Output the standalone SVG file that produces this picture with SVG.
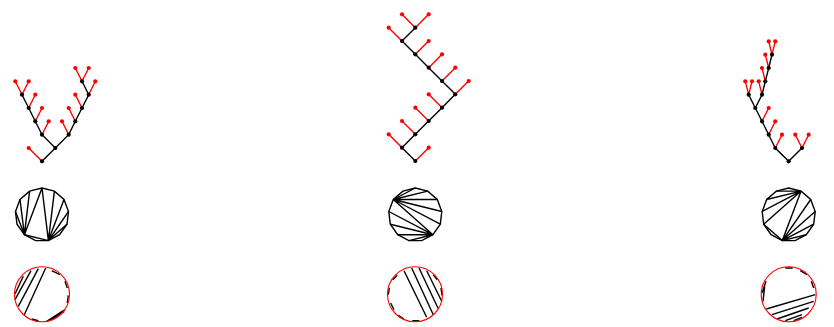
<svg xmlns="http://www.w3.org/2000/svg" width="834" height="327" viewBox="0 0 834 327">
<style>
.k{fill:none;stroke:#000;stroke-width:1.4}
.e{fill:none;stroke:#f00;stroke-width:1.4}
.o{fill:none;stroke:#f00;stroke-width:1.1}
.b{fill:#000}
.r{fill:#f00}
circle.b,circle.r{r:2.1px}
</style>
<defs>
<polygon id="gon" class="k" points="0,-26.7 12.4,-23.6 22,-15.2 26.5,-3.2 25,9.5 17.6,20 6.4,25.9 -6.4,25.9 -17.6,20 -25,9.5 -26.5,-3.2 -22,-15.2 -12.4,-23.6"/>
<circle id="ring" class="o" r="27.5"/>
</defs>
<g id="connectors">
<path class="e" d="M42 161.3L28.7 148M42 134.7L48.7 121.3M35.3 121.3L42 108M28.7 108L35.3 94.7M22 94.7L15.3 81.3M22 94.7L28.7 81.3M68.7 134.7L62 121.3M75.3 121.3L68.7 108M82 108L75.3 94.7M88.7 94.7L95.3 81.3M82 81.3L75.3 68M82 81.3L88.7 68"/>
<path class="k" d="M42 161.3L55.3 148L68.7 134.7L75.3 121.3L82 108L88.7 94.7L82 81.3M55.3 148L42 134.7L35.3 121.3L28.7 108L22 94.7"/>
<path class="e" d="M415.3 161L428.7 147.7M402 147.7L388.7 134.3M415.3 134.3L402 121M428.7 121L415.3 107.7M442 107.7L428.7 94.3M455.3 94.3L468.7 81M442 81L455.3 67.7M428.7 67.7L442 54.3M415.3 54.3L428.7 41M402 41L388.7 27.7M415.3 27.7L402 14.3M415.3 27.7L428.7 14.3"/>
<path class="k" d="M415.3 161L402 147.7L415.3 134.3L428.7 121L442 107.7L455.3 94.3L442 81L428.7 67.7L415.3 54.3L402 41L415.3 27.7"/>
<path class="e" d="M802 148L795.3 134.7M802 148L808.7 134.7M775.3 148L782 134.7M768.7 134.7L775.3 121.3M762 121.3L768.7 108M748.7 94.7L745.3 81.3M748.7 94.7L752 81.3M762 94.7L758.7 81.3M765.3 81.3L762 68M768.7 68L765.3 54.7M772 54.7L768.7 41.3M772 54.7L775.3 41.3"/>
<path class="k" d="M802 148L788.7 161.3L775.3 148L768.7 134.7L762 121.3L755.3 108L748.7 94.7M755.3 108L762 94.7L765.3 81.3L768.7 68L772 54.7"/>
</g>
<g id="tree1">
<g id="a0"><circle class="b" cx="42" cy="161.3"/></g>
<g id="a1"><circle class="r" cx="28.7" cy="148"/></g>
<g id="a2"><circle class="b" cx="55.3" cy="148"/></g>
<g id="a3"><circle class="b" cx="42" cy="134.7"/></g>
<g id="a4"><circle class="b" cx="68.7" cy="134.7"/></g>
<g id="a5"><circle class="b" cx="35.3" cy="121.3"/></g>
<g id="a6"><circle class="r" cx="48.7" cy="121.3"/></g>
<g id="a7"><circle class="r" cx="62" cy="121.3"/></g>
<g id="a8"><circle class="b" cx="75.3" cy="121.3"/></g>
<g id="a9"><circle class="b" cx="28.7" cy="108"/></g>
<g id="a10"><circle class="r" cx="42" cy="108"/></g>
<g id="a11"><circle class="r" cx="68.7" cy="108"/></g>
<g id="a12"><circle class="b" cx="82" cy="108"/></g>
<g id="a13"><circle class="b" cx="22" cy="94.7"/></g>
<g id="a14"><circle class="r" cx="35.3" cy="94.7"/></g>
<g id="a15"><circle class="r" cx="75.3" cy="94.7"/></g>
<g id="a16"><circle class="b" cx="88.7" cy="94.7"/></g>
<g id="a17"><circle class="r" cx="15.3" cy="81.3"/></g>
<g id="a18"><circle class="r" cx="28.7" cy="81.3"/></g>
<g id="a19"><circle class="b" cx="82" cy="81.3"/></g>
<g id="a20"><circle class="r" cx="95.3" cy="81.3"/></g>
<g id="a21"><circle class="r" cx="75.3" cy="68"/></g>
<g id="a22"><circle class="r" cx="88.7" cy="68"/></g>
</g>
<g id="tree2">
<g id="b0"><circle class="b" cx="415.3" cy="161"/></g>
<g id="b1"><circle class="r" cx="428.7" cy="147.7"/></g>
<g id="b2"><circle class="b" cx="402" cy="147.7"/></g>
<g id="b3"><circle class="r" cx="388.7" cy="134.3"/></g>
<g id="b4"><circle class="b" cx="415.3" cy="134.3"/></g>
<g id="b5"><circle class="r" cx="402" cy="121"/></g>
<g id="b6"><circle class="b" cx="428.7" cy="121"/></g>
<g id="b7"><circle class="r" cx="415.3" cy="107.7"/></g>
<g id="b8"><circle class="b" cx="442" cy="107.7"/></g>
<g id="b9"><circle class="r" cx="428.7" cy="94.3"/></g>
<g id="b10"><circle class="b" cx="455.3" cy="94.3"/></g>
<g id="b11"><circle class="r" cx="468.7" cy="81"/></g>
<g id="b12"><circle class="b" cx="442" cy="81"/></g>
<g id="b13"><circle class="r" cx="455.3" cy="67.7"/></g>
<g id="b14"><circle class="b" cx="428.7" cy="67.7"/></g>
<g id="b15"><circle class="r" cx="442" cy="54.3"/></g>
<g id="b16"><circle class="b" cx="415.3" cy="54.3"/></g>
<g id="b17"><circle class="r" cx="428.7" cy="41"/></g>
<g id="b18"><circle class="b" cx="402" cy="41"/></g>
<g id="b19"><circle class="r" cx="388.7" cy="27.7"/></g>
<g id="b20"><circle class="b" cx="415.3" cy="27.7"/></g>
<g id="b21"><circle class="r" cx="402" cy="14.3"/></g>
<g id="b22"><circle class="r" cx="428.7" cy="14.3"/></g>
</g>
<g id="tree3">
<g id="c0"><circle class="b" cx="788.7" cy="161.3"/></g>
<g id="c1"><circle class="b" cx="775.3" cy="148"/></g>
<g id="c2"><circle class="b" cx="802" cy="148"/></g>
<g id="c3"><circle class="r" cx="795.3" cy="134.7"/></g>
<g id="c4"><circle class="r" cx="808.7" cy="134.7"/></g>
<g id="c5"><circle class="b" cx="768.7" cy="134.7"/></g>
<g id="c6"><circle class="r" cx="782" cy="134.7"/></g>
<g id="c7"><circle class="b" cx="762" cy="121.3"/></g>
<g id="c8"><circle class="r" cx="775.3" cy="121.3"/></g>
<g id="c9"><circle class="b" cx="755.3" cy="108"/></g>
<g id="c10"><circle class="r" cx="768.7" cy="108"/></g>
<g id="c11"><circle class="b" cx="748.7" cy="94.7"/></g>
<g id="c12"><circle class="b" cx="762" cy="94.7"/></g>
<g id="c13"><circle class="r" cx="745.3" cy="81.3"/></g>
<g id="c14"><circle class="r" cx="752" cy="81.3"/></g>
<g id="c15"><circle class="r" cx="758.7" cy="81.3"/></g>
<g id="c16"><circle class="b" cx="765.3" cy="81.3"/></g>
<g id="c17"><circle class="r" cx="762" cy="68"/></g>
<g id="c18"><circle class="b" cx="768.7" cy="68"/></g>
<g id="c19"><circle class="r" cx="765.3" cy="54.7"/></g>
<g id="c20"><circle class="b" cx="772" cy="54.7"/></g>
<g id="c21"><circle class="r" cx="768.7" cy="41.3"/></g>
<g id="c22"><circle class="r" cx="775.3" cy="41.3"/></g>
</g>
<g id="polygon1" transform="translate(42 214.7)">
<use href="#gon"/>
<path class="k" d="M-26.5 -3.2L-17.6 20L-22 -15.2M-12.4 -23.6L-17.6 20L0 -26.7L6.4 25.9L12.4 -23.6M22 -15.2L6.4 25.9L26.5 -3.2M25 9.5L6.4 25.9L-17.6 20"/>
</g>
<g id="polygon2" transform="translate(415.3 214.7)">
<use href="#gon"/>
<path class="k" d="M0 -26.7L-22 -15.2L12.4 -23.6M22 -15.2L-22 -15.2L26.5 -3.2M25 9.5L-22 -15.2L17.6 20L-26.5 -3.2M-25 9.5L17.6 20L-17.6 20M-6.4 25.9L17.6 20"/>
</g>
<g id="polygon3" transform="translate(788.7 214.7)">
<use href="#gon"/>
<path class="k" d="M-12.4 -23.6L12.4 -23.6L-22 -15.2M-26.5 -3.2L12.4 -23.6L-25 9.5L-6.4 25.9L12.4 -23.6M22 -15.2L-6.4 25.9L26.5 -3.2M25 9.5L-6.4 25.9L17.6 20"/>
</g>
<g id="lamination1">
<path class="k" d="M45.7 268L24.3 314.7M38.3 268.7L18.3 306.3M31 270.7L15 299.7M23.3 276.3L15 294M51.7 270.7L60 274.7M65 281.3L67.3 288M68.3 295.3L67.3 303M31.7 319L38.3 320.7M46.7 321.3L65 309.7M50 320.3L64.3 311.3"/>
<use href="#ring" x="42" y="294.3"/>
</g>
<g id="lamination2">
<path class="k" d="M404 270.7L426.7 317.3M411.7 268L433.3 314.7M419 268L438.3 308.7M426.7 270.7L441.7 301.3M392.7 279.7L397.3 275.3M389.3 288L388.3 294.7M390.7 303L394 309.7M398.3 315.3L404 319M412.3 320.7L419.3 320.7M441 288L442 295.3M433.3 274.7L437.3 279.7"/>
<use href="#ring" x="415" y="294.3"/>
</g>
<g id="lamination3">
<path class="k" d="M815.3 294.7L766.3 309M813.7 301.3L772 314.7M808.7 308L777 319M802 314.7L785.3 320.7M785.3 268L792.7 268M800.3 270.7L807 274.7M811.3 281.3L813.7 288M766 281.3L762 293M764.7 286.3L763 301.3M793.7 320.7L802 317.3"/>
<use href="#ring" x="788.7" y="294.3"/>
</g>
</svg>
